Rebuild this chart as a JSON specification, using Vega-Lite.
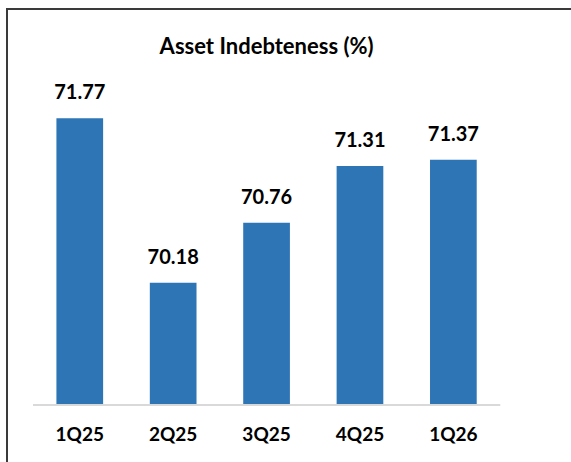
{
  "$schema": "https://vega.github.io/schema/vega-lite/v6.json",
  "width": 600,
  "height": 470,
  "autosize": {"type": "none"},
  "padding": {"left": 7, "top": 9, "right": 0, "bottom": 0},
  "background": "white",
  "config": {
    "view": {"stroke": "#3a3a3a", "strokeWidth": 2},
    "font": "Lato"
  },
  "data": {
    "values": [
      {"quarter": "1Q25", "value": 71.77},
      {"quarter": "2Q25", "value": 70.18},
      {"quarter": "3Q25", "value": 70.76},
      {"quarter": "4Q25", "value": 71.31},
      {"quarter": "1Q26", "value": 71.37}
    ]
  },
  "encoding": {
    "x": {
      "field": "quarter",
      "type": "nominal",
      "sort": null,
      "axis": null,
      "scale": {"type": "band", "paddingInner": 0.5, "paddingOuter": 0.962, "align": 0.275}
    }
  },
  "layer": [
    {
      "mark": {"type": "bar", "color": "#2E75B6"},
      "encoding": {
        "y": {"field": "value", "type": "quantitative", "axis": null,
              "scale": {"domain": [68.285, 72.826], "nice": false, "zero": false}},
        "y2": {"datum": 69}
      }
    },
    {
      "mark": {"type": "rule", "color": "#D9D9D9", "strokeWidth": 1.5},
      "encoding": {
        "x": {"datum": "1Q25", "bandPosition": -0.5},
        "x2": {"datum": "1Q26", "bandPosition": 1.5},
        "y": {"datum": 69}
      }
    },
    {
      "mark": {"type": "text", "baseline": "alphabetic", "dy": -19, "fontSize": 20, "fontWeight": "bold", "color": "#000000"},
      "encoding": {
        "y": {"field": "value", "type": "quantitative"},
        "text": {"field": "value", "type": "quantitative", "format": ".2f"}
      }
    },
    {
      "mark": {"type": "text", "baseline": "alphabetic", "fontSize": 19, "fontWeight": "bold", "color": "#000000"},
      "encoding": {
        "y": {"datum": 68.65},
        "text": {"field": "quarter"}
      }
    },
    {
      "data": {"values": [{"title": "Asset Indebteness (%)"}]},
      "mark": {"type": "text", "baseline": "alphabetic", "fontSize": 22, "fontWeight": "bold", "color": "#000000"},
      "encoding": {
        "x": {"datum": "3Q25", "bandPosition": 0.5},
        "y": {"datum": 72.39},
        "text": {"field": "title"}
      }
    }
  ]
}
